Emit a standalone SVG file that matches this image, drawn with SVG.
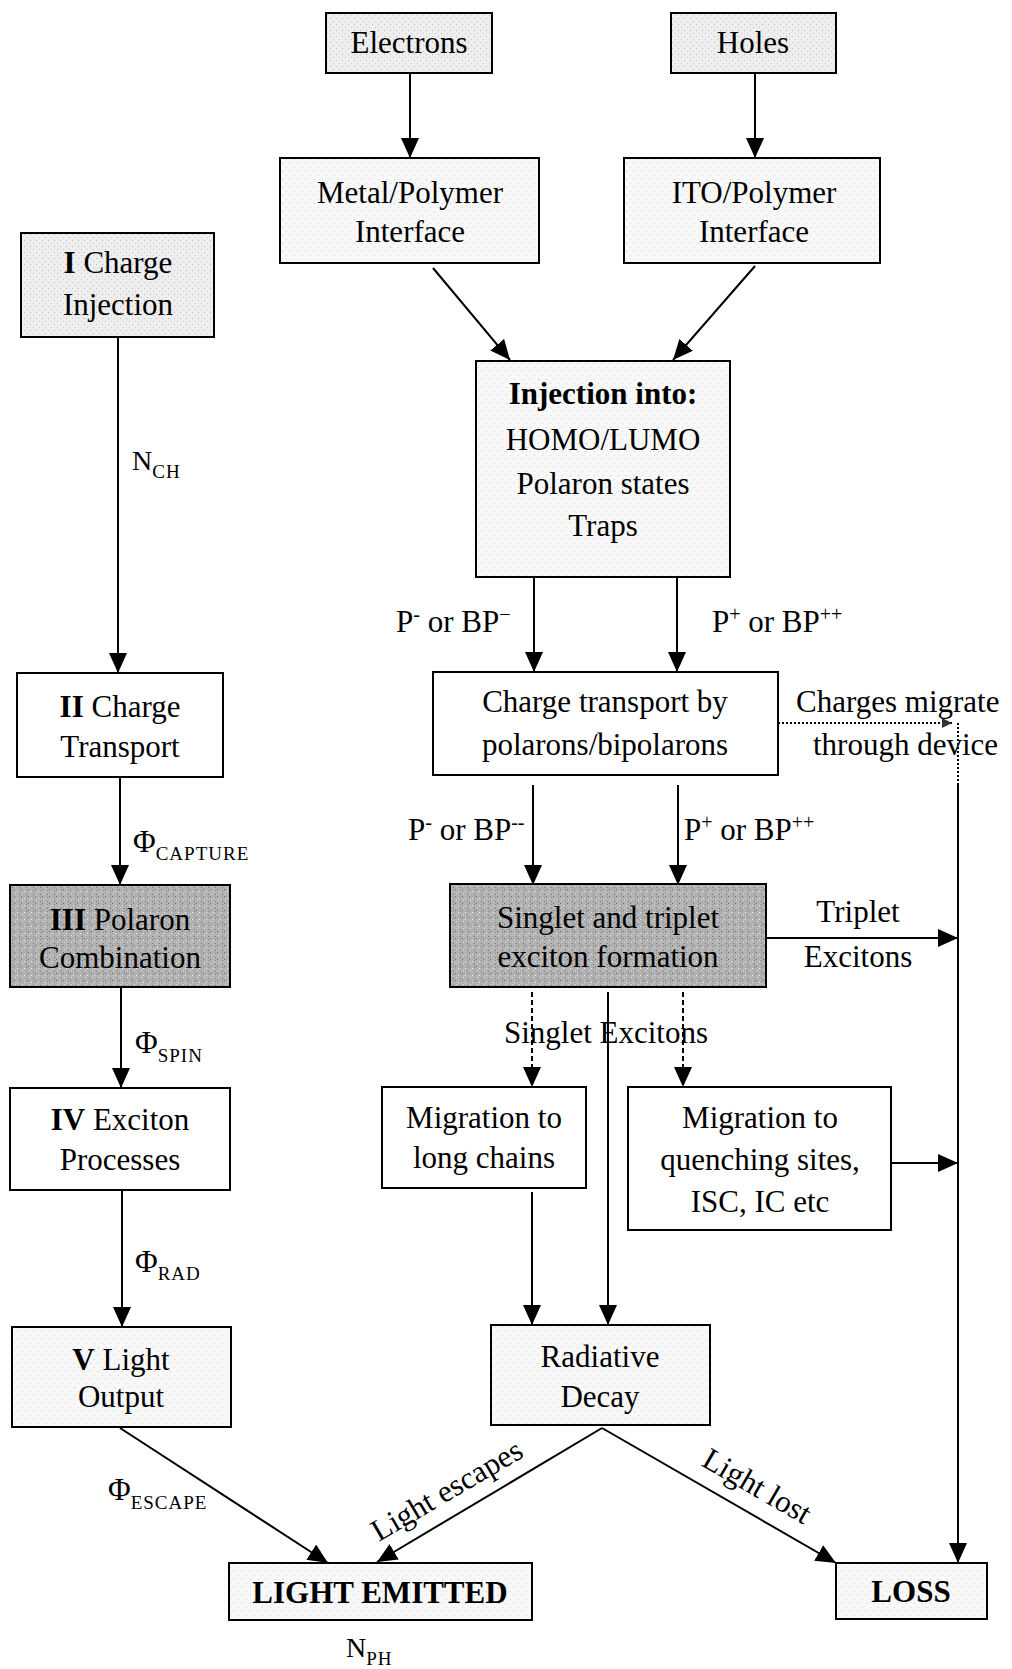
<svg xmlns="http://www.w3.org/2000/svg" width="1012" height="1669" viewBox="0 0 1012 1669">
<style>
.box{stroke:#000;stroke-width:2}
.t{font-family:"Liberation Serif","Times New Roman",serif;font-size:31px;fill:#000}
.c{text-anchor:middle}
.b{font-weight:bold}
.sub{font-size:19px;letter-spacing:1px}
.sup{font-size:20px}
.ln{stroke:#000;stroke-width:2;fill:none}
.dash{stroke-dasharray:5 3}
.dot{stroke-dasharray:2 2}
</style>
<defs>
<marker id="ah" viewBox="0 0 20 18" refX="20" refY="9" markerWidth="20" markerHeight="18" markerUnits="userSpaceOnUse" orient="auto"><path d="M0,0 L20,9 L0,18 z" fill="#000"/></marker>
<marker id="ahs" viewBox="0 0 10 10" refX="10" refY="5" markerWidth="10" markerHeight="10" markerUnits="userSpaceOnUse" orient="auto"><path d="M0,0 L10,5 L0,10 z" fill="#333"/></marker>
<pattern id="stipDark" width="7" height="7" patternUnits="userSpaceOnUse"><rect width="7" height="7" fill="#b2b2b2"/><rect x="0" y="0" width="1" height="1" fill="#6a6a6a"/><rect x="3" y="2" width="1" height="1" fill="#ededed"/><rect x="5" y="5" width="1" height="1" fill="#777"/><rect x="1" y="4" width="1" height="1" fill="#d8d8d8"/><rect x="5" y="1" width="1" height="1" fill="#888"/></pattern>
<pattern id="stipLight" width="6" height="6" patternUnits="userSpaceOnUse"><rect width="6" height="6" fill="#eeeeee"/><rect x="0" y="0" width="1" height="1" fill="#bbb"/><rect x="3" y="3" width="1" height="1" fill="#c8c8c8"/></pattern>
<pattern id="stipFaint" width="8" height="8" patternUnits="userSpaceOnUse"><rect width="8" height="8" fill="#f8f8f8"/><rect x="2" y="3" width="1" height="1" fill="#ccc"/><rect x="6" y="7" width="1" height="1" fill="#d4d4d4"/></pattern>
</defs>

<g id="connectors">
<line class="ln" x1="410" y1="73" x2="410" y2="158" marker-end="url(#ah)"/>
<line class="ln" x1="755" y1="73" x2="755" y2="158" marker-end="url(#ah)"/>
<line class="ln" x1="433" y1="268" x2="510" y2="360" marker-end="url(#ah)"/>
<line class="ln" x1="755" y1="266" x2="673" y2="360" marker-end="url(#ah)"/>
<line class="ln" x1="534" y1="577" x2="534" y2="672" marker-end="url(#ah)"/>
<line class="ln" x1="677" y1="577" x2="677" y2="672" marker-end="url(#ah)"/>
<line class="ln" x1="533" y1="785" x2="533" y2="885" marker-end="url(#ah)"/>
<line class="ln" x1="678" y1="785" x2="678" y2="885" marker-end="url(#ah)"/>
<line class="ln dot" x1="778" y1="723" x2="952" y2="723" marker-end="url(#ahs)"/>
<line class="ln dot" x1="958" y1="723" x2="958" y2="785"/>
<line class="ln" x1="958" y1="785" x2="958" y2="1563" marker-end="url(#ah)"/>
<line class="ln" x1="766" y1="938" x2="958" y2="938" marker-end="url(#ah)"/>
<line class="ln dash" x1="532" y1="992" x2="532" y2="1087" marker-end="url(#ah)"/>
<line class="ln dash" x1="683" y1="992" x2="683" y2="1087" marker-end="url(#ah)"/>
<line class="ln" x1="608" y1="992" x2="608" y2="1325" marker-end="url(#ah)"/>
<line class="ln" x1="891" y1="1163" x2="958" y2="1163" marker-end="url(#ah)"/>
<line class="ln" x1="532" y1="1192" x2="532" y2="1325" marker-end="url(#ah)"/>
<line class="ln" x1="602" y1="1428" x2="377" y2="1562" marker-end="url(#ah)"/>
<line class="ln" x1="602" y1="1428" x2="836" y2="1563" marker-end="url(#ah)"/>
<line class="ln" x1="118" y1="337" x2="118" y2="673" marker-end="url(#ah)"/>
<line class="ln" x1="120" y1="777" x2="120" y2="885" marker-end="url(#ah)"/>
<line class="ln" x1="121" y1="987" x2="121" y2="1088" marker-end="url(#ah)"/>
<line class="ln" x1="122" y1="1190" x2="122" y2="1327" marker-end="url(#ah)"/>
<line class="ln" x1="120" y1="1428" x2="328" y2="1563" marker-end="url(#ah)"/>

<text class="t" x="396" y="632">P<tspan class="sup" dy="-11">-</tspan><tspan dy="11"> or BP</tspan><tspan class="sup" dy="-11">−</tspan></text>
<text class="t" x="712" y="632">P<tspan class="sup" dy="-11">+</tspan><tspan dy="11"> or BP</tspan><tspan class="sup" dy="-11">++</tspan></text>
<text class="t" x="408" y="840">P<tspan class="sup" dy="-11">-</tspan><tspan dy="11"> or BP</tspan><tspan class="sup" dy="-11">--</tspan></text>
<text class="t" x="684" y="840">P<tspan class="sup" dy="-11">+</tspan><tspan dy="11"> or BP</tspan><tspan class="sup" dy="-11">++</tspan></text>
<text class="t" x="796" y="712">Charges migrate</text>
<text class="t" x="813" y="755">through device</text>
<text class="t c" x="858" y="922">Triplet</text>
<text class="t c" x="858" y="967">Excitons</text>
<text class="t c" x="606" y="1043">Singlet Excitons</text>
<text class="t c" x="452" y="1499" transform="rotate(-30.4 452 1499)">Light escapes</text>
<text class="t c" x="752" y="1495" transform="rotate(30 752 1495)">Light lost</text>
<text class="t" x="132" y="470" style="font-size:28px">N<tspan class="sub" dy="8">CH</tspan></text>
<text class="t" x="133" y="852">Φ<tspan class="sub" dy="8">CAPTURE</tspan></text>
<text class="t" x="135" y="1053">Φ<tspan class="sub" dy="9">SPIN</tspan></text>
<text class="t" x="135" y="1272">Φ<tspan class="sub" dy="8">RAD</tspan></text>
<text class="t" x="108" y="1500">Φ<tspan class="sub" dy="9">ESCAPE</tspan></text>
<text class="t" x="346" y="1657" style="font-size:28px">N<tspan class="sub" dy="8">PH</tspan></text>
</g>

<g id="n-electrons"><rect class="box" x="326" y="13" width="166" height="60" fill="url(#stipLight)"/><text class="t c" x="409" y="53">Electrons</text></g>
<g id="n-holes"><rect class="box" x="671" y="13" width="165" height="60" fill="url(#stipLight)"/><text class="t c" x="753" y="53">Holes</text></g>
<g id="n-metal"><rect class="box" x="280" y="158" width="259" height="105" fill="url(#stipFaint)"/><text class="t c" x="410" y="203">Metal/Polymer</text><text class="t c" x="410" y="242">Interface</text></g>
<g id="n-ito"><rect class="box" x="624" y="158" width="256" height="105" fill="url(#stipFaint)"/><text class="t c" x="754" y="203">ITO/Polymer</text><text class="t c" x="754" y="242">Interface</text></g>
<g id="n-injection"><rect class="box" x="476" y="361" width="254" height="216" fill="url(#stipFaint)"/><text class="t c b" x="603" y="404">Injection into:</text><text class="t c" x="603" y="450">HOMO/LUMO</text><text class="t c" x="603" y="494">Polaron states</text><text class="t c" x="603" y="536">Traps</text></g>
<g id="n-transport"><rect class="box" x="433" y="672" width="345" height="103" fill="#fff"/><text class="t c" x="605" y="712">Charge transport by</text><text class="t c" x="605" y="755">polarons/bipolarons</text></g>
<g id="n-singlet"><rect class="box" x="450" y="884" width="316" height="103" fill="url(#stipDark)"/><text class="t c" x="608" y="928">Singlet and triplet</text><text class="t c" x="608" y="967">exciton formation</text></g>
<g id="n-longchains"><rect class="box" x="382" y="1087" width="204" height="101" fill="#fff"/><text class="t c" x="484" y="1128">Migration to</text><text class="t c" x="484" y="1168">long chains</text></g>
<g id="n-quenching"><rect class="box" x="628" y="1087" width="263" height="143" fill="#fff"/><text class="t c" x="760" y="1128">Migration to</text><text class="t c" x="760" y="1170">quenching sites,</text><text class="t c" x="760" y="1212">ISC, IC etc</text></g>
<g id="n-radiative"><rect class="box" x="491" y="1325" width="219" height="100" fill="url(#stipFaint)"/><text class="t c" x="600" y="1367">Radiative</text><text class="t c" x="600" y="1407">Decay</text></g>
<g id="n-light"><rect class="box" x="229" y="1563" width="303" height="57" fill="url(#stipFaint)"/><text class="t c b" x="380" y="1603">LIGHT EMITTED</text></g>
<g id="n-loss"><rect class="box" x="836" y="1563" width="151" height="56" fill="url(#stipFaint)" stroke="#444"/><text class="t c b" x="911" y="1602">LOSS</text></g>
<g id="n-I"><rect class="box" x="21" y="233" width="193" height="104" fill="url(#stipLight)"/><text class="t c" x="118" y="273"><tspan class="b">I</tspan> Charge</text><text class="t c" x="118" y="315">Injection</text></g>
<g id="n-II"><rect class="box" x="17" y="673" width="206" height="104" fill="#fff"/><text class="t c" x="120" y="717"><tspan class="b">II</tspan> Charge</text><text class="t c" x="120" y="757">Transport</text></g>
<g id="n-III"><rect class="box" x="10" y="885" width="220" height="102" fill="url(#stipDark)"/><text class="t c" x="120" y="930"><tspan class="b">III</tspan> Polaron</text><text class="t c" x="120" y="968">Combination</text></g>
<g id="n-IV"><rect class="box" x="10" y="1088" width="220" height="102" fill="#fff"/><text class="t c" x="120" y="1130"><tspan class="b">IV</tspan> Exciton</text><text class="t c" x="120" y="1170">Processes</text></g>
<g id="n-V"><rect class="box" x="12" y="1327" width="219" height="100" fill="url(#stipFaint)"/><text class="t c" x="121" y="1370"><tspan class="b">V</tspan> Light</text><text class="t c" x="121" y="1407">Output</text></g>
</svg>
